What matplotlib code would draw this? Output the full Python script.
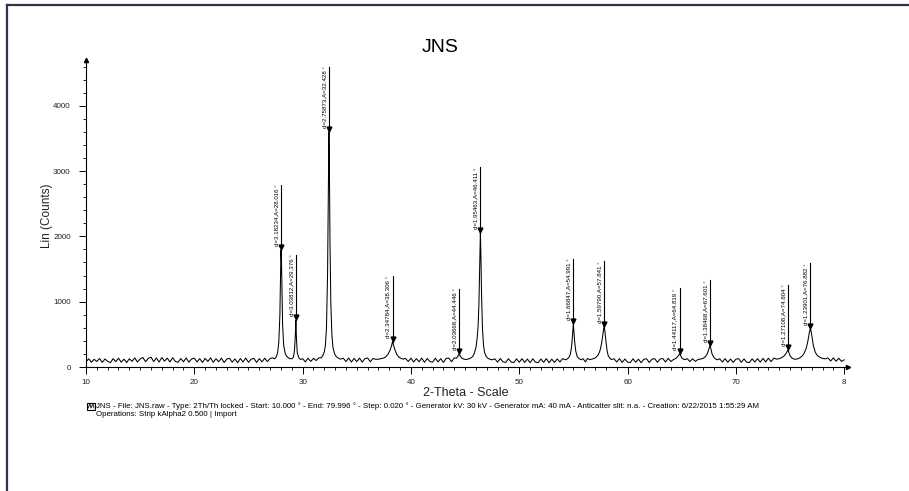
import matplotlib
matplotlib.use("Agg")
import matplotlib.pyplot as plt
from matplotlib.lines import Line2D
from matplotlib.patches import Rectangle
from matplotlib.ticker import MultipleLocator, FixedLocator

plt.rcParams['font.family'] = ['Liberation Sans', 'DejaVu Sans']

two_theta = [
    10.0, 10.25, 10.5, 10.75, 11.0, 11.25, 11.5, 11.75, 12.0, 12.25, 12.5, 12.75,
    13.0, 13.25, 13.5, 13.75, 14.0, 14.25, 14.5, 14.75, 15.0, 15.25, 15.5, 15.75,
    16.0, 16.25, 16.5, 16.75, 17.0, 17.25, 17.5, 17.75, 18.0, 18.25, 18.5, 18.75,
    19.0, 19.25, 19.5, 19.75, 20.0, 20.25, 20.5, 20.75, 21.0, 21.25, 21.5, 21.75,
    22.0, 22.25, 22.5, 22.75, 23.0, 23.25, 23.5, 23.75, 24.0, 24.25, 24.5, 24.75,
    25.0, 25.25, 25.5, 25.75, 26.0, 26.25, 26.5, 26.75, 27.0, 27.25,
    27.4, 27.5, 27.6, 27.7, 27.8, 27.9, 27.95, 28.0, 28.05, 28.1, 28.15, 28.25,
    28.4, 28.6, 28.8, 29.0, 29.15, 29.25, 29.33, 29.376, 29.42, 29.5, 29.65, 29.8,
    30.0, 30.25, 30.5, 30.75, 31.0, 31.25, 31.5, 31.7, 31.85, 32.0, 32.1, 32.2,
    32.3, 32.38, 32.428, 32.47, 32.52, 32.6, 32.7, 32.8, 32.95, 33.1, 33.3, 33.5,
    33.75, 34.0, 34.25, 34.5, 34.75, 35.0, 35.25, 35.5, 35.75, 36.0, 36.25, 36.5,
    36.75, 37.0, 37.25, 37.5, 37.7, 37.9, 38.05, 38.2, 38.306, 38.4, 38.55, 38.7,
    38.9, 39.1, 39.3, 39.5, 39.75, 40.0, 40.25, 40.5, 40.75, 41.0, 41.25, 41.5,
    41.75, 42.0, 42.25, 42.5, 42.75, 43.0, 43.25, 43.5, 43.75, 44.0, 44.2, 44.35,
    44.446, 44.55, 44.7, 44.9, 45.1, 45.3, 45.5, 45.7, 45.85, 46.0, 46.1, 46.2,
    46.28, 46.35, 46.411, 46.46, 46.52, 46.6, 46.7, 46.8, 46.95, 47.1, 47.3, 47.5,
    47.75, 48.0, 48.25, 48.5, 48.75, 49.0, 49.25, 49.5, 49.75, 50.0, 50.25, 50.5,
    50.75, 51.0, 51.25, 51.5, 51.75, 52.0, 52.25, 52.5, 52.75, 53.0, 53.25, 53.5,
    53.75, 54.0, 54.25, 54.45, 54.6, 54.72, 54.82, 54.9, 54.96, 54.991, 55.04, 55.12,
    55.22, 55.35, 55.5, 55.7, 55.9, 56.1, 56.3, 56.5, 56.7, 56.9, 57.1, 57.3,
    57.45, 57.6, 57.72, 57.8, 57.841, 57.9, 58.0, 58.1, 58.2, 58.35, 58.5, 58.75,
    59.0, 59.25, 59.5, 59.75, 60.0, 60.25, 60.5, 60.75, 61.0, 61.25, 61.5, 61.75,
    62.0, 62.25, 62.5, 62.75, 63.0, 63.25, 63.5, 63.75, 64.0, 64.25, 64.45, 64.6,
    64.72, 64.819, 64.9, 65.0, 65.15, 65.3, 65.5, 65.75, 66.0, 66.25, 66.5, 66.75,
    67.0, 67.2, 67.35, 67.48, 67.601, 67.68, 67.8, 67.95, 68.1, 68.3, 68.5, 68.75,
    69.0, 69.25, 69.5, 69.75, 70.0, 70.25, 70.5, 70.75, 71.0, 71.25, 71.5, 71.75,
    72.0, 72.25, 72.5, 72.75, 73.0, 73.25, 73.5, 73.75, 74.0, 74.25, 74.45, 74.6,
    74.72, 74.804, 74.88, 75.0, 75.15, 75.3, 75.5, 75.7, 75.9, 76.1, 76.3, 76.5,
    76.65, 76.78, 76.882, 76.95, 77.05, 77.15, 77.3, 77.45, 77.6, 77.8, 78.0, 78.25,
    78.5, 78.75, 79.0, 79.25, 79.5, 79.75, 79.996,
]
counts = [
    80, 125, 72, 118, 84, 130, 70, 122, 88, 66, 128, 82,
    135, 74, 120, 68, 126, 86, 140, 76, 124, 145, 80, 132,
    150, 84, 138, 76, 145, 90, 136, 78, 142, 85, 72, 130,
    80, 138, 74, 124, 134, 78, 128, 70, 132, 84, 140, 72,
    126, 80, 136, 68, 122, 132, 74, 124, 66, 130, 78, 136,
    72, 120, 132, 70, 128, 78, 134, 82, 130, 140,
    125, 140, 170, 230, 380, 800, 1300, 1790, 1600, 1100, 650, 330,
    200, 150, 130, 125, 150, 260, 500, 720, 480, 220, 140, 115,
    128, 78, 134, 86, 132, 100, 140, 140, 170, 230, 330, 600,
    1400, 2800, 3600, 3100, 2000, 1000, 500, 300, 200, 160, 135, 120,
    135, 84, 138, 76, 130, 82, 136, 74, 128, 138, 80, 132,
    117, 120, 128, 138, 160, 200, 250, 320, 390, 330, 250, 190,
    150, 130, 120, 132, 84, 134, 76, 128, 80, 136, 72, 130,
    84, 74, 134, 78, 128, 70, 132, 136, 80, 140, 135, 170,
    200, 165, 135, 120, 115, 122, 135, 160, 210, 300, 420, 620,
    1000, 1600, 2060, 1700, 1100, 600, 330, 220, 160, 135, 118, 110,
    124, 74, 130, 78, 70, 126, 76, 68, 124, 72, 128, 70,
    122, 66, 126, 74, 68, 122, 72, 128, 66, 120, 70, 124,
    76, 128, 110, 125, 150, 200, 300, 450, 600, 660, 560, 380,
    240, 160, 130, 112, 126, 78, 130, 112, 120, 130, 150, 190,
    250, 360, 500, 590, 620, 560, 400, 260, 180, 135, 115, 126,
    76, 128, 70, 122, 74, 68, 126, 72, 120, 66, 118, 126,
    70, 120, 128, 72, 122, 130, 76, 132, 84, 116, 130, 155,
    180, 205, 175, 140, 120, 112, 128, 84, 126, 86, 115, 122,
    135, 160, 200, 260, 330, 290, 200, 150, 125, 110, 126, 76,
    128, 72, 122, 70, 120, 128, 72, 124, 74, 68, 126, 76,
    128, 74, 132, 78, 134, 82, 136, 120, 128, 145, 170, 200,
    235, 260, 230, 175, 140, 125, 118, 125, 140, 165, 210, 290,
    400, 530, 590, 540, 430, 330, 240, 190, 165, 145, 132, 125,
    138, 92, 140, 88, 134, 86, 110,
]

# identified peaks
peak_theta = [28.016, 29.376, 32.428, 38.306, 44.446, 46.411,
              54.991, 57.841, 64.819, 67.601, 74.804, 76.882]
peak_counts = [1790, 720, 3600, 390, 200, 2060, 660, 620, 205, 330, 260, 590]
peak_d = ["3.18234", "3.03812", "2.75873", "2.34784", "2.03668", "1.95463",
          "1.66847", "1.59790", "1.44117", "1.38468", "1.27108", "1.23901"]

x_ticks = [10, 20, 30, 40, 50, 60, 70, 80]
x_tick_labels = ["10", "20", "30", "40", "50", "60", "70", "8"]
y_ticks = [0, 1000, 2000, 3000, 4000]

footer_1 = ("JNS - File: JNS.raw - Type: 2Th/Th locked - Start: 10.000 ° - End: 79.996 ° - "
            "Step: 0.020 ° - Generator kV: 30 kV - Generator mA: 40 mA - "
            "Anticatter slit: n.a. - Creation: 6/22/2015 1:55:29 AM")
footer_2 = "Operations: Strip kAlpha2 0.500 | Import"

fig = plt.figure(figsize=(9.09, 4.91), dpi=100)
W, H = 909, 491

# frame lines on top and left of the page
fig.add_artist(Line2D([7.5 / W, 1], [1 - 4.5 / H, 1 - 4.5 / H], color="#3b2d50", lw=1.6))
fig.add_artist(Line2D([7.5 / W, 7.5 / W], [0, 1 - 4.5 / H], color="#3b2d50", lw=1.6))

ax = fig.add_axes([86 / W, 1 - 367 / H, 762 / W, 307 / H])
ax.plot(two_theta, counts, color="black", lw=0.75)

for x, h, d in zip(peak_theta, peak_counts, peak_d):
    top = h + 1000
    ax.plot([x, x], [h, top], color="black", lw=0.8)
    ax.plot([x], [h + 40], marker="v", color="black", markersize=3.5)
    ax.annotate(f"d={d},A={x:.3f} °", xy=(x, h + 60), xytext=(-1.5, 0),
                textcoords="offset points", rotation=90, ha="right", va="bottom",
                fontsize=4.4)

ax.set_xlim(10, 80.35)
ax.set_ylim(0, 4700)
for s in ["top", "right"]:
    ax.spines[s].set_visible(False)
for s in ["left", "bottom"]:
    ax.spines[s].set_linewidth(0.8)

ax.xaxis.set_major_locator(FixedLocator(x_ticks))
ax.set_xticklabels(x_tick_labels)
ax.xaxis.set_minor_locator(MultipleLocator(1))
ax.yaxis.set_major_locator(FixedLocator(y_ticks))
ax.yaxis.set_minor_locator(MultipleLocator(200))
ax.tick_params(axis="both", which="major", length=5, width=0.7, labelsize=5.8,
               pad=4, labelcolor="#222222")
ax.tick_params(axis="both", which="minor", length=2.5, width=0.6)
ax.tick_params(axis="y", which="major", pad=6)

# arrow heads on the axis ends
ax.plot([0], [1], marker="^", color="black", markersize=3,
        transform=ax.transAxes, clip_on=False)
ax.plot([1], [0], marker=">", color="black", markersize=3,
        transform=ax.transAxes, clip_on=False)

fig.text(440 / W, 1 - 47 / H, "JNS", ha="center", va="center", fontsize=14)
fig.text(47 / W, 1 - 216 / H, "Lin (Counts)", ha="center", va="center",
         rotation=90, fontsize=8.5, color="#222222")
fig.text(466 / W, 1 - 393 / H, "2-Theta - Scale", ha="center", va="center",
         fontsize=9, color="#222222")

# scan info footer
icon = Rectangle((87 / W, 1 - 410 / H), 8 / W, 7 / H, transform=fig.transFigure,
                 fill=False, lw=0.8, color="black")
fig.add_artist(icon)
fig.add_artist(Line2D([88 / W, 90 / W, 91 / W, 93 / W, 94 / W],
                      [1 - 408 / H, 1 - 404 / H, 1 - 408 / H, 1 - 404 / H, 1 - 408 / H],
                      color="black", lw=0.6))
fig.text(96 / W, 1 - 406.5 / H, footer_1, ha="left", va="center", fontsize=5.7)
fig.text(96 / W, 1 - 414.5 / H, footer_2, ha="left", va="center", fontsize=5.7)

fig.savefig("out.png", dpi=100)
